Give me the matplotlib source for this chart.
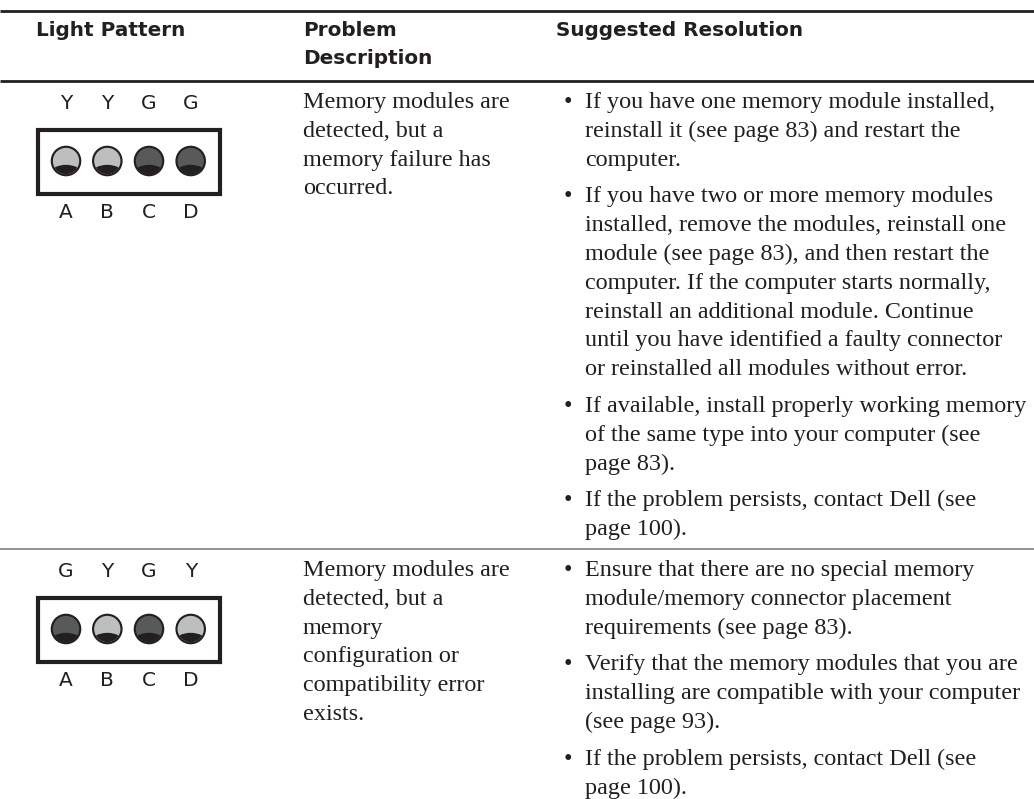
import matplotlib.pyplot as plt
from matplotlib.patches import Circle, Ellipse, Rectangle

# --- table content -------------------------------------------------------
headers = [["Light Pattern"], ["Problem", "Description"], ["Suggested Resolution"]]

patterns = ["YYGG", "GYGY"]
led_names = ["A", "B", "C", "D"]

problems = [
    ["Memory modules are", "detected, but a", "memory failure has", "occurred."],
    ["Memory modules are", "detected, but a", "memory", "configuration or",
     "compatibility error", "exists."],
]

resolutions = [
    [
        ["If you have one memory module installed,",
         "reinstall it (see page 83) and restart the",
         "computer."],
        ["If you have two or more memory modules",
         "installed, remove the modules, reinstall one",
         "module (see page 83), and then restart the",
         "computer. If the computer starts normally,",
         "reinstall an additional module. Continue",
         "until you have identified a faulty connector",
         "or reinstalled all modules without error."],
        ["If available, install properly working memory",
         "of the same type into your computer (see",
         "page 83)."],
        ["If the problem persists, contact Dell (see",
         "page 100)."],
    ],
    [
        ["Ensure that there are no special memory",
         "module/memory connector placement",
         "requirements (see page 83)."],
        ["Verify that the memory modules that you are",
         "installing are compatible with your computer",
         "(see page 93)."],
        ["If the problem persists, contact Dell (see",
         "page 100)."],
    ],
]

# --- layout (pixels) -----------------------------------------------------
W, H = 1034, 799
col_x = [36, 303, 556]
bullet_x, text_x = 568, 585
row_tops = [81.3, 549.3]
line_h, bullet_gap = 28.8, 36.8
led_x = [66, 107.3, 149, 190.7]
led_r = 15.3

ink = "#231f20"
led_col = {"Y": "#bcbec0", "G": "#58595b"}
head_font = dict(family="DejaVu Sans", weight="bold", size=14.4, color=ink)
body_font = dict(family="Liberation Serif", size=17.4, color=ink)
led_font = dict(family="DejaVu Sans", size=14.5, color=ink)

fig = plt.figure(figsize=(W / 100, H / 100), dpi=100)
ax = fig.add_axes([0, 0, 1, 1])
ax.set_xlim(0, W)
ax.set_ylim(H, 0)
ax.axis("off")

# rules
ax.plot([0, W], [10.5, 10.5], color=ink, lw=2.0, solid_capstyle="butt")
ax.plot([0, W], [81.3, 81.3], color=ink, lw=2.0, solid_capstyle="butt")
ax.plot([0, W], [row_tops[1], row_tops[1]], color="#808080", lw=1.2,
        solid_capstyle="butt")

# header
for x, lines in zip(col_x, headers):
    for i, s in enumerate(lines):
        ax.text(x, 36 + i * 27.5, s, va="baseline", ha="left", **head_font)


def draw_led(cx, cy, c):
    ax.add_patch(Circle((cx, cy), led_r, facecolor=ink, edgecolor="none"))
    inner = Circle((cx, cy), led_r * 0.86, facecolor=led_col[c], edgecolor="none")
    ax.add_patch(inner)
    shade = Ellipse((cx, cy + 0.8 * led_r), 2 * led_r, 1.1 * led_r,
                    facecolor=ink, edgecolor="none")
    ax.add_patch(shade)
    shade.set_clip_path(inner)


for r, top in enumerate(row_tops):
    # light pattern
    for k, c in enumerate(patterns[r]):
        ax.text(led_x[k], top + 27.5, c, ha="center", va="baseline", **led_font)
        ax.text(led_x[k], top + 136.5, led_names[k], ha="center", va="baseline",
                **led_font)
        draw_led(led_x[k], top + 79.7, c)
    ax.add_patch(Rectangle((38, top + 49), 182, 64, facecolor="none",
                           edgecolor=ink, lw=3.0))

    # problem description
    y0 = top + 26.7
    for i, s in enumerate(problems[r]):
        ax.text(col_x[1], y0 + i * line_h, s, va="baseline", **body_font)

    # suggested resolution
    y = y0
    for bullet in resolutions[r]:
        ax.text(bullet_x, y, "\u2022", ha="center", va="baseline", **body_font)
        for i, s in enumerate(bullet):
            ax.text(text_x, y + i * line_h, s, va="baseline", **body_font)
        y += (len(bullet) - 1) * line_h + bullet_gap

fig.savefig("out.png", dpi=100, facecolor="white")
